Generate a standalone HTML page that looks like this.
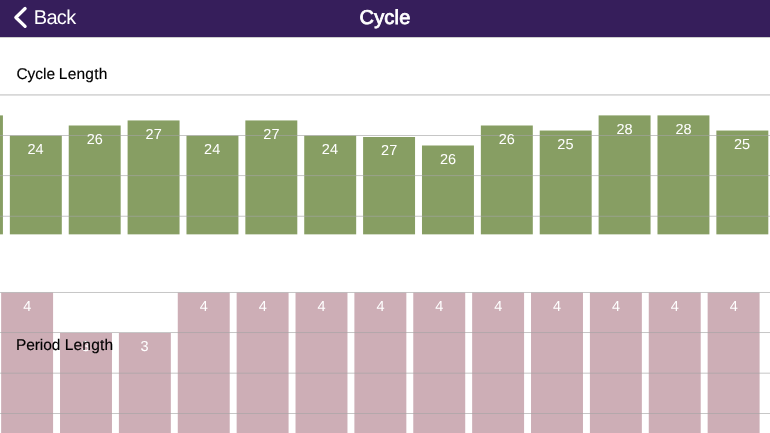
<!DOCTYPE html>
<html lang="en"><head><meta charset="utf-8"><title>Cycle</title>
<style>
html,body{margin:0;padding:0;background:#fff;}
body{width:770px;height:433px;overflow:hidden;position:relative;font-family:"Liberation Sans",sans-serif;text-rendering:geometricPrecision;}
.hdr{position:absolute;left:0;top:0;width:770px;height:37px;background:#361e5b;}
.back{position:absolute;left:33.7px;top:7px;font-size:20px;line-height:22px;color:#fff;white-space:nowrap;letter-spacing:-0.65px;}
.title{position:absolute;left:0;width:770px;top:7px;text-align:center;font-size:20px;line-height:22px;color:#fff;-webkit-text-stroke:0.8px #fff;letter-spacing:0.2px;}
.lbl{position:absolute;left:0;width:200px;height:18px;font-size:15.5px;line-height:18px;color:#000;-webkit-text-stroke:0.15px #000;white-space:nowrap;}
.lbl span{position:absolute;top:0;}
svg{position:absolute;left:0;top:0;}
svg text{font-family:"Liberation Sans",sans-serif;font-size:14.5px;fill:#fff;text-anchor:middle;text-rendering:geometricPrecision;}
</style></head><body>
<div class="hdr"><svg width="40" height="37" viewBox="0 0 40 37"><path d="M25.1 8.55 L15.85 17.45 L25.1 26.35" fill="none" stroke="#fff" stroke-width="3.3" stroke-linecap="round" stroke-linejoin="round"/></svg><div class="back">Back</div><div class="title">Cycle</div></div>
<svg width="770" height="433" viewBox="0 0 770 433">
<rect x="0" y="37" width="770" height="1" fill="#cecece"/>
<rect x="0" y="94.35" width="770" height="1.15" fill="#c4c4c4"/>
<g fill="#879e63">
<rect x="-49.03" y="115.40" width="51.95" height="118.95"/>
<rect x="9.85" y="135.60" width="51.95" height="98.75"/>
<rect x="68.73" y="125.50" width="51.95" height="108.85"/>
<rect x="127.60" y="120.45" width="51.95" height="113.90"/>
<rect x="186.48" y="135.60" width="51.95" height="98.75"/>
<rect x="245.35" y="120.45" width="51.95" height="113.90"/>
<rect x="304.23" y="135.60" width="51.95" height="98.75"/>
<rect x="363.10" y="137.00" width="51.95" height="97.35"/>
<rect x="421.98" y="145.50" width="51.95" height="88.85"/>
<rect x="480.85" y="125.50" width="51.95" height="108.85"/>
<rect x="539.73" y="130.55" width="51.95" height="103.80"/>
<rect x="598.61" y="115.40" width="51.95" height="118.95"/>
<rect x="657.48" y="115.40" width="51.95" height="118.95"/>
<rect x="716.36" y="130.55" width="51.95" height="103.80"/>
</g>
<g fill="#cdaeb6">
<rect x="1.14" y="292.60" width="51.95" height="140.40"/>
<rect x="60.02" y="333.00" width="51.95" height="100.00"/>
<rect x="118.89" y="333.00" width="51.95" height="100.00"/>
<rect x="177.77" y="292.60" width="51.95" height="140.40"/>
<rect x="236.64" y="292.60" width="51.95" height="140.40"/>
<rect x="295.52" y="292.60" width="51.95" height="140.40"/>
<rect x="354.39" y="292.60" width="51.95" height="140.40"/>
<rect x="413.27" y="292.60" width="51.95" height="140.40"/>
<rect x="472.14" y="292.60" width="51.95" height="140.40"/>
<rect x="531.02" y="292.60" width="51.95" height="140.40"/>
<rect x="589.90" y="292.60" width="51.95" height="140.40"/>
<rect x="648.77" y="292.60" width="51.95" height="140.40"/>
<rect x="707.65" y="292.60" width="51.95" height="140.40"/>
</g>
<g fill="#a4a4a4" fill-opacity="1">
<rect x="0" y="135.04" width="770" height="0.62"/>
<rect x="0" y="175.44" width="770" height="0.62"/>
<rect x="0" y="215.84" width="770" height="0.62"/>
<rect x="0" y="291.99" width="770" height="0.62"/>
<rect x="0" y="332.39" width="770" height="0.62"/>
<rect x="0" y="372.79" width="770" height="0.62"/>
<rect x="0" y="413.19" width="770" height="0.62"/>
</g>
<text x="35.53" y="154">24</text>
<text x="94.70" y="144">26</text>
<text x="153.68" y="139">27</text>
<text x="212.15" y="154">24</text>
<text x="271.43" y="139">27</text>
<text x="329.90" y="154">24</text>
<text x="389.18" y="155">27</text>
<text x="447.95" y="164">26</text>
<text x="506.83" y="144">26</text>
<text x="565.41" y="149">25</text>
<text x="624.58" y="134">28</text>
<text x="683.46" y="134">28</text>
<text x="742.03" y="149">25</text>
<text x="27.22" y="311">4</text>
<text x="85.69" y="351">3</text>
<text x="144.57" y="351">3</text>
<text x="203.84" y="311">4</text>
<text x="262.72" y="311">4</text>
<text x="321.59" y="311">4</text>
<text x="380.47" y="311">4</text>
<text x="439.34" y="311">4</text>
<text x="498.22" y="311">4</text>
<text x="557.10" y="311">4</text>
<text x="615.97" y="311">4</text>
<text x="674.85" y="311">4</text>
<text x="733.72" y="311">4</text>
</svg>
<div class="lbl" style="top:66px"><span style="left:16.4px;letter-spacing:0px">Cycle </span><span style="left:58.85px;letter-spacing:0.2px">Length</span></div>
<div class="lbl" style="top:337px"><span style="left:16.0px;letter-spacing:-0.1px">Period </span><span style="left:64.7px;letter-spacing:0.2px">Length</span></div>
</body></html>
